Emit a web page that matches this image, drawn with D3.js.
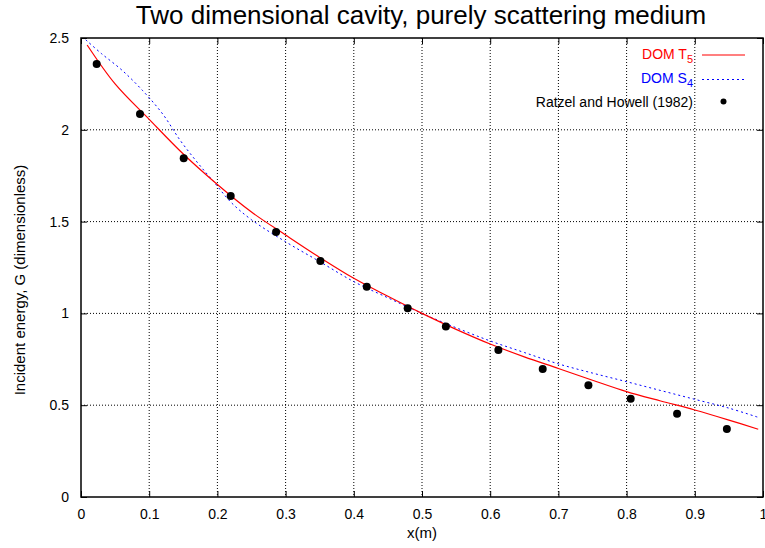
<!DOCTYPE html>
<html>
<head>
<meta charset="utf-8">
<script src="https://cdn.jsdelivr.net/npm/d3@7"></script>
<style>
  body { margin: 0; background: #fff; }
  text { font-family: "Liberation Sans", Arial, sans-serif; }
</style>
</head>
<body>
<script>
// Ratzel and Howell (1982) reference points
var refX = [0.023, 0.0865, 0.1506, 0.2195, 0.286, 0.351, 0.419, 0.479, 0.535, 0.612, 0.677, 0.744, 0.806, 0.874, 0.947];
var refG = [2.358, 2.086, 1.845, 1.639, 1.443, 1.286, 1.145, 1.028, 0.928, 0.800, 0.697, 0.608, 0.535, 0.454, 0.370];

// DOM T5 curve
var t5X = [0.009, 0.05, 0.1, 0.15, 0.2, 0.25, 0.3, 0.35, 0.4, 0.45, 0.5, 0.55, 0.6, 0.65, 0.7, 0.75, 0.8, 0.85, 0.9, 0.95, 0.993];
var t5G = [2.462, 2.25, 2.057, 1.868, 1.702, 1.552, 1.427, 1.305, 1.191, 1.093, 1.000, 0.913, 0.833, 0.763, 0.700, 0.636, 0.574, 0.523, 0.474, 0.419, 0.369];

// DOM S4 curve
var s4X = [0.007, 0.03, 0.06, 0.09, 0.12, 0.145, 0.17, 0.195, 0.22, 0.25, 0.3, 0.35, 0.4, 0.45, 0.5, 0.55, 0.6, 0.65, 0.7, 0.75, 0.8, 0.85, 0.9, 0.95, 0.993];
var s4G = [2.49, 2.415, 2.325, 2.215, 2.085, 1.945, 1.825, 1.715, 1.605, 1.51, 1.39, 1.282, 1.173, 1.085, 1.000, 0.922, 0.850, 0.787, 0.725, 0.675, 0.628, 0.580, 0.532, 0.484, 0.434];

var xTicks = [0, 0.1, 0.2, 0.3, 0.4, 0.5, 0.6, 0.7, 0.8, 0.9, 1];
var yTicks = [0, 0.5, 1, 1.5, 2, 2.5];

var W = 765, H = 548;
var margin = {left: 81, right: 2, top: 38, bottom: 51};
var width = W - margin.left - margin.right,
    height = H - margin.top - margin.bottom;

var svg = d3.select("body").append("svg")
    .attr("width", W).attr("height", H);

var g = svg.append("g")
    .attr("transform", "translate(" + margin.left + "," + margin.top + ")");

var x = d3.scaleLinear().domain([0, 1]).range([0, width]);
var y = d3.scaleLinear().domain([0, 2.5]).range([height, 0]);

// grid
g.append("g").selectAll("line")
  .data(xTicks.slice(1, -1))
  .enter().append("line")
    .attr("x1", function(d) { return x(d); }).attr("x2", function(d) { return x(d); })
    .attr("y1", 0).attr("y2", height)
    .style("stroke", "#000").style("stroke-width", 1)
    .style("stroke-dasharray", "1,2");
g.append("g").selectAll("line")
  .data(yTicks.slice(1, -1))
  .enter().append("line")
    .attr("x1", 0).attr("x2", width)
    .attr("y1", function(d) { return y(d); }).attr("y2", function(d) { return y(d); })
    .style("stroke", "#000").style("stroke-width", 1)
    .style("stroke-dasharray", "1,2");

// axes with mirror ticks
var fmt = function(d) { return d3.format("")(d); };
var xb = g.append("g").attr("transform", "translate(0," + height + ")")
    .call(d3.axisBottom(x).tickValues(xTicks).tickSize(-6).tickPadding(12).tickFormat(fmt));
var xt = g.append("g")
    .call(d3.axisTop(x).tickValues(xTicks).tickSize(-6).tickFormat(""));
var yl = g.append("g")
    .call(d3.axisLeft(y).tickValues(yTicks).tickSize(-6).tickPadding(12).tickFormat(fmt));
var yr = g.append("g").attr("transform", "translate(" + width + ",0)")
    .call(d3.axisRight(y).tickValues(yTicks).tickSize(-6).tickFormat(""));

[xb, xt, yl, yr].forEach(function(a) {
  a.select(".domain").remove();
  a.selectAll("line").style("stroke", "#000");
  a.selectAll("text").style("font-size", "14px").style("font-family", "Liberation Sans, Arial, sans-serif").style("fill", "#000");
});

// border
g.append("rect")
    .attr("x", 0).attr("y", 0).attr("width", width).attr("height", height)
    .style("fill", "none").style("stroke", "#000").style("stroke-width", 1.5);

var line = d3.line()
    .x(function(d) { return x(d[0]); })
    .y(function(d) { return y(d[1]); })
    .curve(d3.curveCatmullRom);

g.append("path")
    .datum(d3.zip(s4X, s4G))
    .attr("d", line)
    .style("fill", "none").style("stroke", "#0000ff").style("stroke-width", 1)
    .style("stroke-dasharray", "2,3");

g.append("path")
    .datum(d3.zip(t5X, t5G))
    .attr("d", line)
    .style("fill", "none").style("stroke", "#ff0000").style("stroke-width", 1.2);

g.selectAll("circle.ref")
  .data(d3.zip(refX, refG))
  .enter().append("circle")
    .attr("class", "ref")
    .attr("cx", function(d) { return x(d[0]); })
    .attr("cy", function(d) { return y(d[1]); })
    .attr("r", 4)
    .style("fill", "#000");

// title and labels
svg.append("text")
    .attr("x", 421).attr("y", 24)
    .attr("text-anchor", "middle")
    .style("font-size", "26px")
    .text("Two dimensional cavity, purely scattering medium");

svg.append("text")
    .attr("x", 422).attr("y", 538)
    .attr("text-anchor", "middle")
    .style("font-size", "15px")
    .text("x(m)");

svg.append("text")
    .attr("transform", "translate(25,280) rotate(-90)")
    .attr("text-anchor", "middle")
    .style("font-size", "15px")
    .text("Incident energy, G (dimensionless)");

// legend
var leg = svg.append("g");
var t1 = leg.append("text").attr("x", 693).attr("y", 59).attr("text-anchor", "end")
    .style("font-size", "14px").style("fill", "#ff0000");
t1.append("tspan").text("DOM T");
t1.append("tspan").attr("dy", 4).style("font-size", "11px").text("5");
leg.append("line").attr("x1", 702).attr("x2", 745).attr("y1", 55).attr("y2", 55)
    .style("stroke", "#ff0000").style("stroke-width", 1.2);

var t2 = leg.append("text").attr("x", 693).attr("y", 83).attr("text-anchor", "end")
    .style("font-size", "14px").style("fill", "#0000ff");
t2.append("tspan").text("DOM S");
t2.append("tspan").attr("dy", 4).style("font-size", "11px").text("4");
leg.append("line").attr("x1", 702).attr("x2", 745).attr("y1", 79.5).attr("y2", 79.5)
    .style("stroke", "#0000ff").style("stroke-width", 1)
    .style("stroke-dasharray", "2,3");

leg.append("text").attr("x", 693).attr("y", 107).attr("text-anchor", "end")
    .style("font-size", "14px").style("fill", "#000")
    .text("Ratzel and Howell (1982)");
leg.append("circle").attr("cx", 723.5).attr("cy", 101.5).attr("r", 3)
    .style("fill", "#000");
</script>
</body>
</html>
